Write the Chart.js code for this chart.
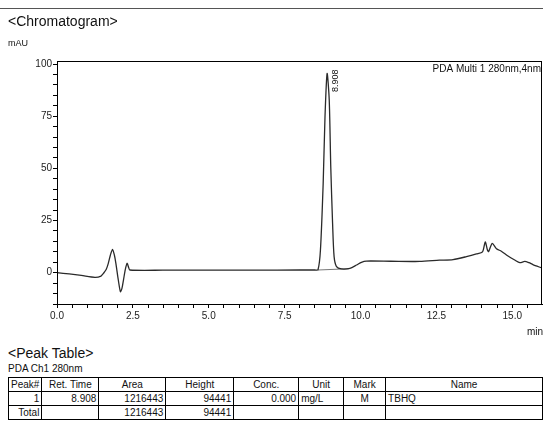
<!DOCTYPE html>
<html>
<head>
<meta charset="utf-8">
<script src="https://cdn.jsdelivr.net/npm/chart.js@4.4.1/dist/chart.umd.min.js"></script>
<style>
  body { margin: 0; background: #fff; font-family: "Liberation Sans", Arial, sans-serif; color: #111; }
  #page { position: relative; width: 543px; height: 421px; overflow: hidden; }
  #rule { position: absolute; left: 0; top: 8px; width: 543px; height: 1px; background: #555; }
  #title { position: absolute; left: 8px; top: 13px; font-size: 14px; }
  #unit { position: absolute; left: 8px; top: 38px; font-size: 9px; }
  #chrom { position: absolute; left: 0; top: 0; }
  #ptTitle { position: absolute; left: 8px; top: 345px; font-size: 14px; }
  #ptSub { position: absolute; left: 8px; top: 363px; font-size: 10px; }
  table { position: absolute; left: 8px; top: 377px; border-collapse: collapse; font-size: 10px; table-layout: fixed; }
  td, th { border: 1px solid #000; padding: 0 2px; height: 13px; line-height: 13px; white-space: nowrap; overflow: hidden; }
  th { font-weight: normal; text-align: center; }
  .r { text-align: right; }
  .l { text-align: left; }
  .c { text-align: center; }
</style>
</head>
<body>
<div id="page">
  <canvas id="chrom" width="543" height="340"></canvas>
  <div id="rule"></div>
  <div id="title">&lt;Chromatogram&gt;</div>
  <div id="unit">mAU</div>
  <div id="ptTitle">&lt;Peak Table&gt;</div>
  <div id="ptSub">PDA Ch1 280nm</div>
  <table>
    <colgroup>
      <col style="width:33px"><col style="width:57px"><col style="width:67px"><col style="width:68px">
      <col style="width:65px"><col style="width:45px"><col style="width:42px"><col style="width:157px">
    </colgroup>
    <tr><th>Peak#</th><th>Ret. Time</th><th>Area</th><th>Height</th><th>Conc.</th><th>Unit</th><th>Mark</th><th>Name</th></tr>
    <tr><td class="r">1</td><td class="r">8.908</td><td class="r">1216443</td><td class="r">94441</td><td class="r">0.000</td><td class="l">mg/L</td><td class="c">M</td><td class="l">TBHQ</td></tr>
    <tr><td class="r">Total</td><td></td><td class="r">1216443</td><td class="r">94441</td><td></td><td></td><td></td><td></td></tr>
  </table>
</div>
<script>
// retention time (min) and signal (mAU)
const times = [0, 0.4, 0.8, 1.25, 1.45, 1.53, 1.62, 1.69, 1.76, 1.83, 1.89, 1.94, 2.02, 2.09, 2.14, 2.19, 2.25, 2.31, 2.36, 2.4,
  3.5, 5.0, 6.5, 8.0, 8.5, 8.6, 8.68, 8.77, 8.83, 8.9, 8.97, 9.02, 9.08, 9.13, 9.21, 9.37, 9.65, 9.87, 10.03, 10.19,
  11.0, 11.95, 12.6, 13.05, 13.49, 13.82, 14.02, 14.11, 14.18, 14.22, 14.34, 14.48, 14.64, 14.86, 15.08, 15.25, 15.41, 15.55, 15.68, 15.97];
const signal = [0, -0.6, -1.3, -2.2, -1.6, -0.3, 1.5, 4.5, 8.5, 11.2, 8.5, 4.5, -3.5, -9.1, -7.5, -3.5, 1.5, 4.5, 2.5, 1.3,
  1.2, 1.2, 1.2, 1.3, 1.3, 1.4, 10.9, 42.8, 74.7, 95.5, 82.7, 50.8, 23.7, 7.7, 2.9, 1.8, 2.1, 3.7, 5.0, 5.6,
  5.5, 5.4, 6.0, 6.3, 7.7, 9.0, 10.0, 14.8, 11.0, 10.1, 14.1, 11.5, 10.3, 8.0, 6.1, 4.8, 5.4, 4.8, 3.9, 2.3];

// integration baseline under the main peak
const baseTimes = [8.6, 9.62];
const baseSignal = [1.3, 1.9];

const peakTimes = [8.908];
const peakLabels = ['8.908'];

const yTicks = [0, 25, 50, 75, 100];
const xTicks = [0, 2.5, 5, 7.5, 10, 12.5, 15];

const font = "'Liberation Sans', Arial, sans-serif";

function toPoints(xs, ys) {
    return xs.map((x, i) => ({x: x, y: ys[i]}));
}

const frame = {
    id: 'frame',
    afterDraw(chart) {
        let c = chart.ctx;
        let a = chart.chartArea;
        let xs = chart.scales.x;
        c.save();
        c.strokeStyle = '#000';
        c.lineWidth = 1;
        c.strokeRect(a.left + 0.5, a.top + 0.5, a.right - a.left - 1, a.bottom - a.top);
        c.fillStyle = '#111';
        c.font = '10px ' + font;
        c.textAlign = 'right';
        c.textBaseline = 'top';
        c.fillText('PDA Multi 1 280nm,4nm', a.right - 1, a.top + 3);
        c.fillText('min', a.right + 1, 327);
        // peak labels, rotated
        c.font = '9px ' + font;
        c.textAlign = 'left';
        c.textBaseline = 'middle';
        peakTimes.forEach((t, i) => {
            c.save();
            c.translate(xs.getPixelForValue(t) + 8, 92);
            c.rotate(-Math.PI / 2);
            c.fillText(peakLabels[i], 0, 0);
            c.restore();
        });
        c.restore();
    }
};

const data = {
    datasets: [{
        data: toPoints(times, signal),
        borderColor: '#2a2a2a',
        borderWidth: 1.3,
        pointRadius: 0,
        tension: 0.25
    }, {
        data: toPoints(baseTimes, baseSignal),
        borderColor: '#555',
        borderWidth: 0.8,
        pointRadius: 0
    }]
};

const config = {
    type: 'line',
    data: data,
    options: {
        responsive: false,
        animation: false,
        events: [],
        layout: {padding: {top: 61, right: 1, left: 0, bottom: 0}},
        plugins: {legend: {display: false}, tooltip: {enabled: false}},
        scales: {
            x: {
                type: 'linear',
                min: 0,
                max: 15.98,
                afterFit: s => { s.height = 36; },
                border: {display: true, color: '#000', width: 1},
                grid: {drawOnChartArea: false, drawTicks: true, tickLength: 4, color: '#000'},
                ticks: {
                    stepSize: 0.5,
                    autoSkip: false,
                    maxRotation: 0,
                    includeBounds: false,
                    padding: 2,
                    color: '#222',
                    font: {family: font, size: 10},
                    callback: v => xTicks.includes(v) ? v.toFixed(1) : ''
                }
            },
            y: {
                min: -15,
                max: 101.5,
                afterFit: s => { s.width = 57; },
                border: {display: true, color: '#000', width: 1},
                grid: {drawOnChartArea: false, drawTicks: true, tickLength: 4, color: '#000'},
                ticks: {
                    stepSize: 5,
                    autoSkip: false,
                    includeBounds: false,
                    padding: 1,
                    color: '#222',
                    font: {family: font, size: 10},
                    callback: v => yTicks.includes(v) ? String(v) : ''
                }
            }
        }
    },
    plugins: [frame]
};

let ctx = document.getElementById('chrom').getContext('2d');
new Chart(ctx, config);
</script>
</body>
</html>
